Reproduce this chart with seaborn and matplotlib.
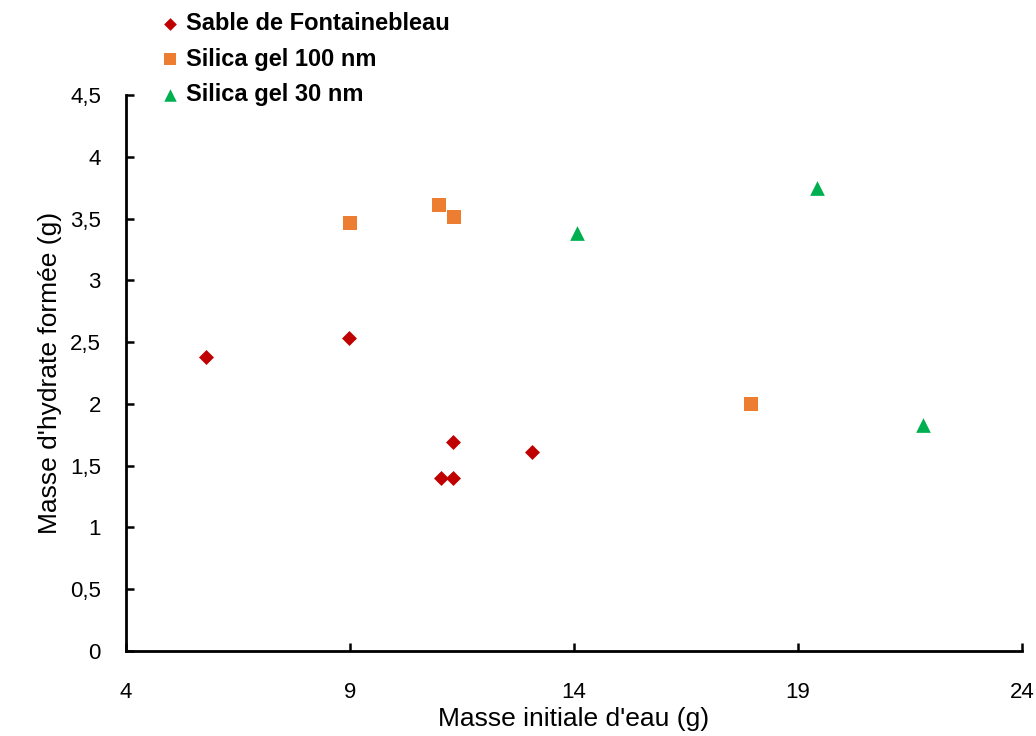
import numpy as np
import pandas as pd
import seaborn as sns
import matplotlib
matplotlib.use('Agg')
import matplotlib.pyplot as plt
from matplotlib.font_manager import FontProperties
from matplotlib.ticker import FuncFormatter, MultipleLocator

# données
sable_x = [5.78, 8.98, 11.29, 11.03, 11.29, 13.07]
sable_y = [2.38, 2.53, 1.69, 1.40, 1.40, 1.61]
sg100_x = [9.00, 10.99, 11.33, 17.94]
sg100_y = [3.46, 3.61, 3.51, 2.00]
sg30_x = [14.07, 19.42, 21.78]
sg30_y = [3.38, 3.75, 1.83]

x_ticks = [4, 9, 14, 19, 24]

series = ['Sable de Fontainebleau', 'Silica gel 100 nm', 'Silica gel 30 nm']
colors = {'Sable de Fontainebleau': '#C00000',
          'Silica gel 100 nm': '#ED7D31',
          'Silica gel 30 nm': '#00B050'}
markers = {'Sable de Fontainebleau': 'D',
           'Silica gel 100 nm': 's',
           'Silica gel 30 nm': '^'}
sizes = {'Sable de Fontainebleau': 58,
         'Silica gel 100 nm': 115,
         'Silica gel 30 nm': 112}

df = pd.concat([
    pd.DataFrame({'x': sable_x, 'y': sable_y, 'serie': series[0]}),
    pd.DataFrame({'x': sg100_x, 'y': sg100_y, 'serie': series[1]}),
    pd.DataFrame({'x': sg30_x, 'y': sg30_y, 'serie': series[2]}),
], ignore_index=True)

sns.set_style('white')
plt.rcParams['font.family'] = ['Liberation Sans', 'DejaVu Sans']
plt.rcParams['text.color'] = 'black'
plt.rcParams['axes.labelcolor'] = 'black'

fig = plt.figure(figsize=(10.36, 7.36), dpi=100)
ax = fig.add_axes([0.1216, 0.1155, 0.865, 0.7555])

for s in series:
    sub = df[df['serie'] == s]
    sns.scatterplot(data=sub, x='x', y='y', ax=ax, color=colors[s], marker=markers[s],
                    s=sizes[s], linewidth=0, label=s)

ax.set_xlim(4, 24)
ax.set_ylim(0, 4.5)
ax.set_xticks(x_ticks)
ax.yaxis.set_major_locator(MultipleLocator(0.5))
fmt = FuncFormatter(lambda v, p: f'{v:g}'.replace('.', ','))
ax.xaxis.set_major_formatter(fmt)
ax.yaxis.set_major_formatter(fmt)

for side in ['top', 'right']:
    ax.spines[side].set_visible(False)
for side in ['left', 'bottom']:
    ax.spines[side].set_color('black')
    ax.spines[side].set_linewidth(2)
ax.tick_params(direction='in', length=5.5, width=1.8, labelsize=16,
               left=True, bottom=True, colors='black')
ax.tick_params(axis='x', pad=22)
ax.tick_params(axis='y', pad=18)

ax.set_xlabel("Masse initiale d'eau (g)", fontsize=19, labelpad=3, color='black')
ax.set_ylabel("Masse d'hydrate formée (g)", fontsize=19, labelpad=6, color='black')

leg_font = FontProperties(family='Liberation Sans', weight='bold', size=17)
ax.get_legend().remove()
handles, labels = ax.get_legend_handles_labels()
leg = fig.legend(handles, labels, loc='upper left', bbox_to_anchor=(0.155, 0.984),
                 frameon=False, prop=leg_font,
                 handlelength=0.8, handletextpad=0.28, labelspacing=0.54,
                 markerscale=0.85, borderpad=0, borderaxespad=0)
for t in leg.get_texts():
    t.set_color('black')

fig.savefig('out.png', dpi=100)
